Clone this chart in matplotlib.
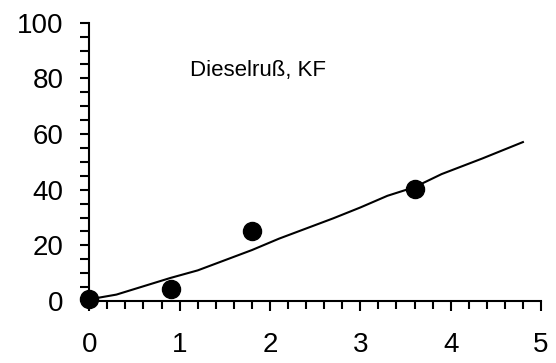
import matplotlib.pyplot as plt
from matplotlib.ticker import MultipleLocator

plt.rcParams['font.family'] = ['Liberation Sans', 'DejaVu Sans']

# measured points
x_meas = [0.0, 0.9, 1.8, 3.6]
y_meas = [0.8, 4.3, 25.3, 40.3]

# model curve
x_fit = [0.0, 0.3, 0.9, 1.2, 1.8, 2.1, 2.7, 3.0, 3.3, 3.6, 3.9, 4.35, 4.8]
y_fit = [0.6, 2.3, 8.3, 11.0, 18.3, 22.4, 29.7, 33.6, 37.8, 40.9, 45.6, 51.2, 57.1]

x_ticks = [0, 1, 2, 3, 4, 5]
y_ticks = [0, 20, 40, 60, 80, 100]

fig = plt.figure(figsize=(5.56, 3.63), dpi=100)
ax = fig.add_axes([0.1606, 0.1708, 0.973 - 0.1606, 0.9375 - 0.1708])

ax.plot(x_fit, y_fit, color='black', linewidth=1.5, clip_on=False)
ax.plot(x_meas, y_meas, 'o', color='black', markersize=13, clip_on=False, zorder=5)

ax.set_xlim(0, 5)
ax.set_ylim(0, 100)
ax.set_xticks(x_ticks)
ax.set_yticks(y_ticks)
ax.xaxis.set_minor_locator(MultipleLocator(0.2))
ax.yaxis.set_minor_locator(MultipleLocator(5))

for side in ['top', 'right']:
    ax.spines[side].set_visible(False)
for side in ['left', 'bottom']:
    ax.spines[side].set_linewidth(1.5)

ax.tick_params(axis='y', which='major', direction='out', length=6.5, width=1.5,
               labelsize=20, pad=12)
ax.tick_params(axis='y', which='minor', direction='out', length=6.5, width=1.5)
ax.tick_params(axis='x', which='major', direction='out', length=7, width=1.5,
               labelsize=20, pad=15)
ax.tick_params(axis='x', which='minor', direction='out', length=5.5, width=1.5)

ax.text(1.12, 82.7, 'Dieselruß, KF', fontsize=16, ha='left', va='center')

fig.savefig('out.png', dpi=100)
